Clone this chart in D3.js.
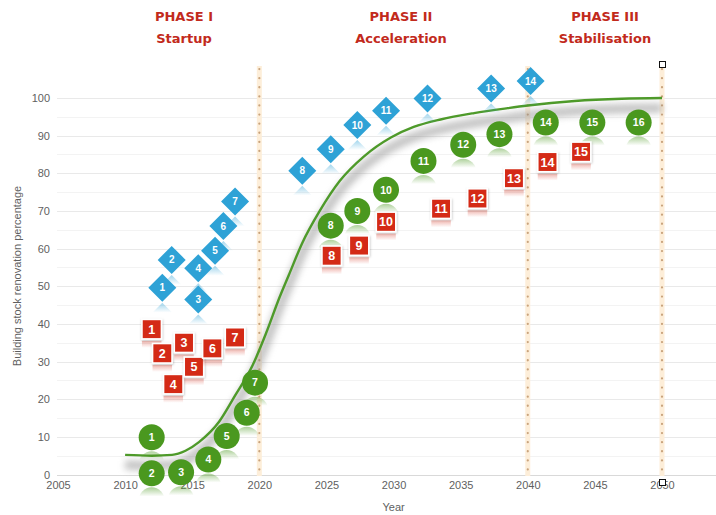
<!DOCTYPE html>
<html>
<head>
<meta charset="utf-8">
<script src="https://cdn.jsdelivr.net/npm/d3@7"></script>
<style>
  html, body { margin: 0; padding: 0; background: #fff; }
  svg { display: block; }
</style>
</head>
<body>
<script>
// ---- data -------------------------------------------------------------
const yearTicks  = [2005, 2010, 2015, 2020, 2025, 2030, 2035, 2040, 2045, 2050];
const valueTicks = [0, 10, 20, 30, 40, 50, 60, 70, 80, 90, 100];
const gridValues = [0, 5, 10, 15, 20, 25, 30, 35, 40, 45, 50, 55, 60, 65, 70, 75, 80, 85, 90, 95, 100];
const phaseBoundaries = [2020, 2040, 2050];
const phaseTitles = ["PHASE I", "PHASE II", "PHASE III"];
const phaseNames  = ["Startup", "Acceleration", "Stabilisation"];

// target path (green line)
const curveYears  = [2010, 2012, 2013.5, 2014.5, 2015.5, 2017, 2018.2, 2019.5, 2020.5, 2021.5, 2022.2, 2023.2, 2024.5, 2026, 2027.8, 2029.8, 2031.5, 2033.5, 2036, 2038.5, 2040, 2043.5, 2047, 2050];
const curveValues = [5.2, 5.0, 5.2, 6.3, 8.6, 14, 21, 29, 37.5, 47, 53, 61.5, 70, 78, 84.5, 89.5, 92.3, 94.3, 96, 97.3, 98, 99.2, 99.8, 100];

// blue diamonds
const blueYears  = [2012.77, 2013.47, 2015.45, 2015.45, 2016.70, 2017.32, 2018.19, 2023.20, 2025.32, 2027.30, 2029.44, 2032.53, 2037.27, 2040.21];
const blueValues = [49.6, 57.0, 46.5, 54.8, 59.4, 66.0, 72.5, 80.7, 86.4, 92.8, 96.6, 99.9, 102.5, 104.5];

// red squares
const redYears  = [2011.98, 2012.77, 2014.39, 2013.59, 2015.13, 2016.50, 2018.19, 2025.39, 2027.43, 2029.44, 2033.54, 2036.25, 2038.97, 2041.47, 2043.97];
const redValues = [38.6, 32.2, 35.0, 24.0, 28.6, 33.5, 36.4, 58.1, 60.8, 67.1, 70.6, 73.3, 78.7, 83.0, 85.7];

// green circles
const greenYears  = [2011.98, 2011.98, 2014.17, 2016.20, 2017.57, 2019.06, 2019.68, 2025.32, 2027.30, 2029.44, 2032.23, 2035.19, 2037.89, 2041.34, 2044.81, 2048.26];
const greenValues = [9.9, 0.3, 0.6, 4.0, 10.2, 16.4, 24.4, 66.1, 70.0, 75.6, 83.3, 87.6, 90.4, 93.5, 93.5, 93.5];

// ---- layout -----------------------------------------------------------
const W = 716, H = 515;
const BLUE = "#2ea2d6", RED = "#d42b18", GREEN = "#4a981f", TITLE = "#c22a1c";
const AXIS_TEXT = "#5f5f5f";

const x = d3.scaleLinear().domain([2005, 2050]).range([58, 662]);
const y = d3.scaleLinear().domain([0, 100]).range([474.5, 98]);

const svg = d3.select("body").append("svg")
  .attr("width", W).attr("height", H)
  .attr("viewBox", `0 0 ${W} ${H}`);

const defs = svg.append("defs");

function fadeGradient(id, color, a) {
  const g = defs.append("linearGradient").attr("id", id)
    .attr("x1", 0).attr("y1", 0).attr("x2", 0).attr("y2", 1);
  g.append("stop").attr("offset", "0%").attr("stop-color", color).attr("stop-opacity", a);
  g.append("stop").attr("offset", "35%").attr("stop-color", color).attr("stop-opacity", 0);
}
fadeGradient("reflBlue", BLUE, 0.45);
fadeGradient("reflRed", RED, 0.35);
fadeGradient("reflGreen", GREEN, 0.45);

defs.append("filter").attr("id", "soft")
  .attr("x", "-10%").attr("y", "-50%").attr("width", "120%").attr("height", "200%")
  .append("feGaussianBlur").attr("stdDeviation", 3.5);

const shadowF = defs.append("filter").attr("id", "dropShadow")
  .attr("x", "-30%").attr("y", "-30%").attr("width", "160%").attr("height", "160%");
shadowF.append("feDropShadow").attr("dx", 0.5).attr("dy", 1).attr("stdDeviation", 1)
  .attr("flood-color", "#000").attr("flood-opacity", 0.25);

// ---- grid -------------------------------------------------------------
svg.append("g").selectAll("line").data(gridValues).join("line")
  .attr("x1", 57).attr("x2", W)
  .attr("y1", d => Math.round(y(d)) + 0.5).attr("y2", d => Math.round(y(d)) + 0.5)
  .attr("stroke", d => d === 0 ? "#d9d9d9" : (d % 10 === 0 ? "#e9e9e9" : "#f3f3f3"))
  .attr("stroke-width", 1);

// ---- axes -------------------------------------------------------------
const yAxis = d3.axisLeft(y).tickValues(valueTicks).tickSize(0).tickPadding(0);
svg.append("g").attr("transform", "translate(50,0)").call(yAxis)
  .attr("color", AXIS_TEXT)
  .call(g => g.select(".domain").remove())
  .call(g => g.selectAll("text")
    .attr("fill", AXIS_TEXT).attr("font-size", 11)
    .attr("font-family", "Liberation Sans, Arial, sans-serif"));

const xAxis = d3.axisBottom(x).tickValues(yearTicks).tickFormat(d3.format("d")).tickSize(0).tickPadding(0);
svg.append("g").attr("transform", "translate(0,481)").call(xAxis)
  .attr("color", AXIS_TEXT)
  .call(g => g.select(".domain").remove())
  .call(g => g.selectAll("text")
    .attr("fill", AXIS_TEXT).attr("font-size", 11)
    .attr("font-family", "Liberation Sans, Arial, sans-serif"));

svg.append("text")
  .attr("x", x(2030)).attr("y", 511)
  .attr("text-anchor", "middle")
  .attr("font-family", "Liberation Sans, Arial, sans-serif")
  .attr("font-size", 11).attr("fill", AXIS_TEXT)
  .text("Year");

svg.append("text")
  .attr("transform", "translate(21,276) rotate(-90)")
  .attr("text-anchor", "middle")
  .attr("font-family", "Liberation Sans, Arial, sans-serif")
  .attr("font-size", 11).attr("fill", AXIS_TEXT)
  .text("Building stock renovation percentage");

// ---- phase boundaries -------------------------------------------------
const bounds = svg.append("g");
bounds.selectAll("line.glow").data(phaseBoundaries).join("line")
  .attr("class", "glow")
  .attr("x1", d => x(d)).attr("x2", d => x(d))
  .attr("y1", 66).attr("y2", 476)
  .attr("stroke", "#fdeed9").attr("stroke-width", 5);
bounds.selectAll("line.dots").data(phaseBoundaries).join("line")
  .attr("class", "dots")
  .attr("x1", d => x(d)).attr("x2", d => x(d))
  .attr("y1", 69).attr("y2", 476)
  .attr("stroke", "#c9a37c").attr("stroke-width", 2.2)
  .attr("stroke-linecap", "round").attr("stroke-dasharray", "0.1 9");

// small handles at the top and bottom of the final boundary
const endX = x(phaseBoundaries[phaseBoundaries.length - 1]);
[64, 482].forEach(cy => {
  svg.append("rect")
    .attr("x", Math.round(endX) - 3 + 0.5).attr("y", cy - 3 + 0.5)
    .attr("width", 6).attr("height", 6)
    .attr("fill", "#fff").attr("stroke", "#111").attr("stroke-width", 1);
});

// ---- phase titles -----------------------------------------------------
const titleX = [184, 401, 605];
const titles = svg.append("g")
  .attr("font-family", "DejaVu Sans, Verdana, sans-serif")
  .attr("font-weight", "bold").attr("font-size", 13)
  .attr("fill", TITLE).attr("text-anchor", "middle");
phaseTitles.forEach((t, i) => {
  titles.append("text").attr("x", titleX[i]).attr("y", 21).text(t);
  titles.append("text").attr("x", titleX[i]).attr("y", 43).text(phaseNames[i]);
});

// ---- target curve -----------------------------------------------------
const curvePts = curveYears.map((yr, i) => [yr, curveValues[i]]);
const line = d3.line().x(d => x(d[0])).y(d => y(d[1])).curve(d3.curveMonotoneX);

svg.append("path")
  .attr("d", line(curvePts))
  .attr("transform", "translate(0,10)")
  .attr("fill", "none").attr("stroke", "#8f8f8f").attr("stroke-width", 9)
  .attr("opacity", 0.55).attr("filter", "url(#soft)");

svg.append("path")
  .attr("d", line(curvePts))
  .attr("fill", "none").attr("stroke", "#4e9a2a").attr("stroke-width", 2.4);

// ---- markers ----------------------------------------------------------
const numFont = "Liberation Sans, Arial, sans-serif";

// green circles
const R = 13;
const greens = svg.append("g").selectAll("g")
  .data(greenYears.map((yr, i) => ({ yr, v: greenValues[i], n: i + 1 })))
  .join("g")
  .attr("transform", d => `translate(${x(d.yr)},${y(d.v)})`);
greens.append("circle").attr("cy", 2 * R + 1).attr("r", R).attr("fill", "url(#reflGreen)");
greens.append("circle").attr("r", R).attr("fill", GREEN);
greens.append("text").attr("dy", "0.35em").attr("text-anchor", "middle")
  .attr("font-family", numFont).attr("font-weight", "bold").attr("font-size", 10.5)
  .attr("fill", "#fff").text(d => d.n);

// red squares
const S = 19.5;
const reds = svg.append("g").selectAll("g")
  .data(redYears.map((yr, i) => ({ yr, v: redValues[i], n: i + 1 })))
  .join("g")
  .attr("transform", d => `translate(${x(d.yr)},${y(d.v)})`);
reds.append("rect").attr("x", -S / 2).attr("y", S / 2 + 2).attr("width", S).attr("height", S)
  .attr("fill", "url(#reflRed)");
reds.append("rect").attr("x", -S / 2).attr("y", -S / 2).attr("width", S).attr("height", S)
  .attr("fill", RED).attr("stroke", "#fff").attr("stroke-width", 1.6)
  .attr("filter", "url(#dropShadow)");
reds.append("text").attr("dy", "0.36em").attr("text-anchor", "middle")
  .attr("font-family", numFont).attr("font-weight", "bold").attr("font-size", 12.5)
  .attr("fill", "#fff").text(d => d.n);

// blue diamonds
const D = 14;
const diamond = `M0,${-D}L${D},0L0,${D}L${-D},0Z`;
const blues = svg.append("g").selectAll("g")
  .data(blueYears.map((yr, i) => ({ yr, v: blueValues[i], n: i + 1 })))
  .join("g")
  .attr("transform", d => `translate(${x(d.yr)},${y(d.v)})`);
blues.append("path").attr("d", diamond).attr("transform", `translate(0,${2 * D + 1})`)
  .attr("fill", "url(#reflBlue)");
blues.append("path").attr("d", diamond).attr("fill", BLUE);
blues.append("text").attr("dy", "0.35em").attr("text-anchor", "middle")
  .attr("font-family", numFont).attr("font-weight", "bold").attr("font-size", 10)
  .attr("fill", "#fff").text(d => d.n);
</script>
</body>
</html>
